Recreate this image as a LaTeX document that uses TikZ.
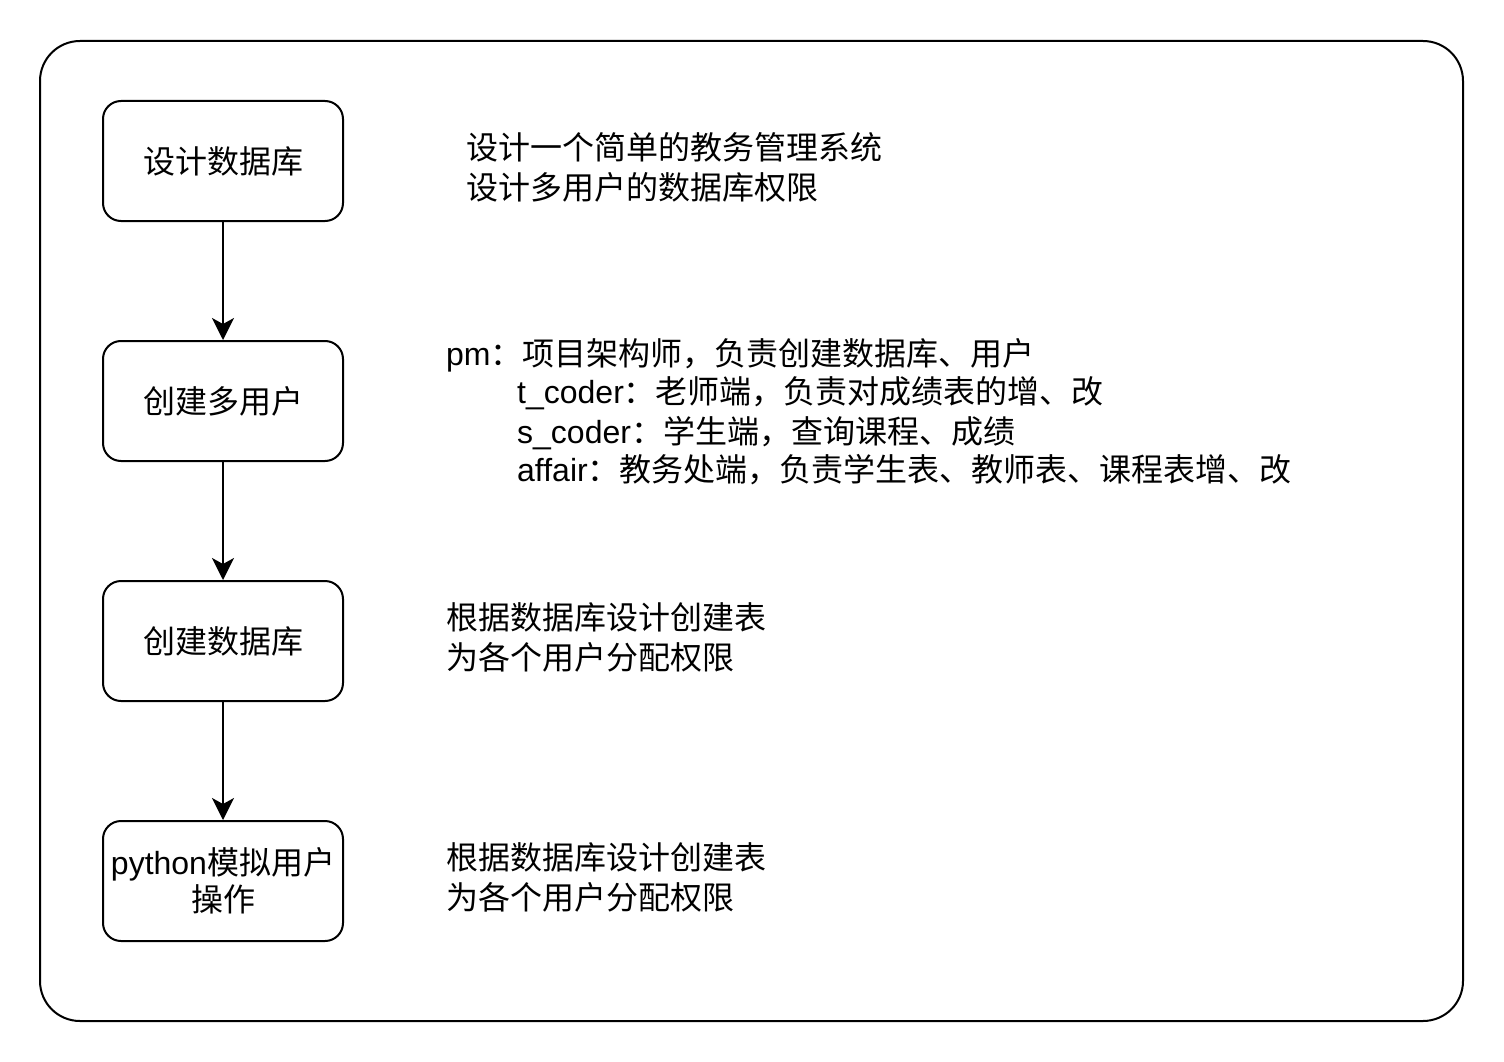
\documentclass[tikz,border=0pt]{standalone}
\usepackage{fontspec}
\setmainfont{Liberation Sans}
\newfontfamily\cjk{Noto Sans CJK SC}
\usetikzlibrary{arrows.meta}
\begin{document}
\begin{tikzpicture}[x=1pt,y=-1pt,
  box/.style={draw,line width=2pt,rounded corners=18pt,minimum width=240pt,minimum height=120pt,inner sep=2pt,align=center,font=\fontsize{32}{38}\selectfont},
  txt/.style={anchor=base west,inner sep=0pt,font=\fontsize{32}{38}\selectfont},
  arr/.style={line width=2pt,-{Stealth[length=22pt,width=22pt,inset=6pt]}}]
\useasboundingbox (0,0) rectangle (1504,1062);
\draw[line width=2pt,rounded corners=40pt] (40,41) rectangle (1463,1021);
\node[box] (b1) at (223,161) {\cjk 设计数据库};
\node[box] (b2) at (223,401) {\cjk 创建多用户};
\node[box] (b3) at (223,641) {\cjk 创建数据库};
\node[box] (b4) at (223,881) {python{\cjk 模拟用户}\\[-1pt]{\cjk 操作}};
\draw[arr] (b1) -- (b2);
\draw[arr] (b2) -- (b3);
\draw[arr] (b3) -- (b4);
\node[txt] (t1a) at (466,160) {\cjk 设计一个简单的教务管理系统};
\node[txt] (t1b) at (466,199) {\cjk 设计多用户的数据库权限};
\node[txt] (t2a) at (446,365) {pm{\cjk ：项目架构师，负责创建数据库、用户}};
\node[txt] (t2b) at (517,403) {t\_coder{\cjk ：老师端，负责对成绩表的增、改}};
\node[txt] (t2c) at (517,443) {s\_coder{\cjk ：学生端，查询课程、成绩}};
\node[txt] (t2d) at (517,481) {affair{\cjk ：教务处端，负责学生表、教师表、课程表增、改}};
\node[txt] (t3a) at (446,629) {\cjk 根据数据库设计创建表};
\node[txt] (t3b) at (446,669) {\cjk 为各个用户分配权限};
\node[txt] (t4a) at (446,869) {\cjk 根据数据库设计创建表};
\node[txt] (t4b) at (446,909) {\cjk 为各个用户分配权限};
\end{tikzpicture}
\end{document}
